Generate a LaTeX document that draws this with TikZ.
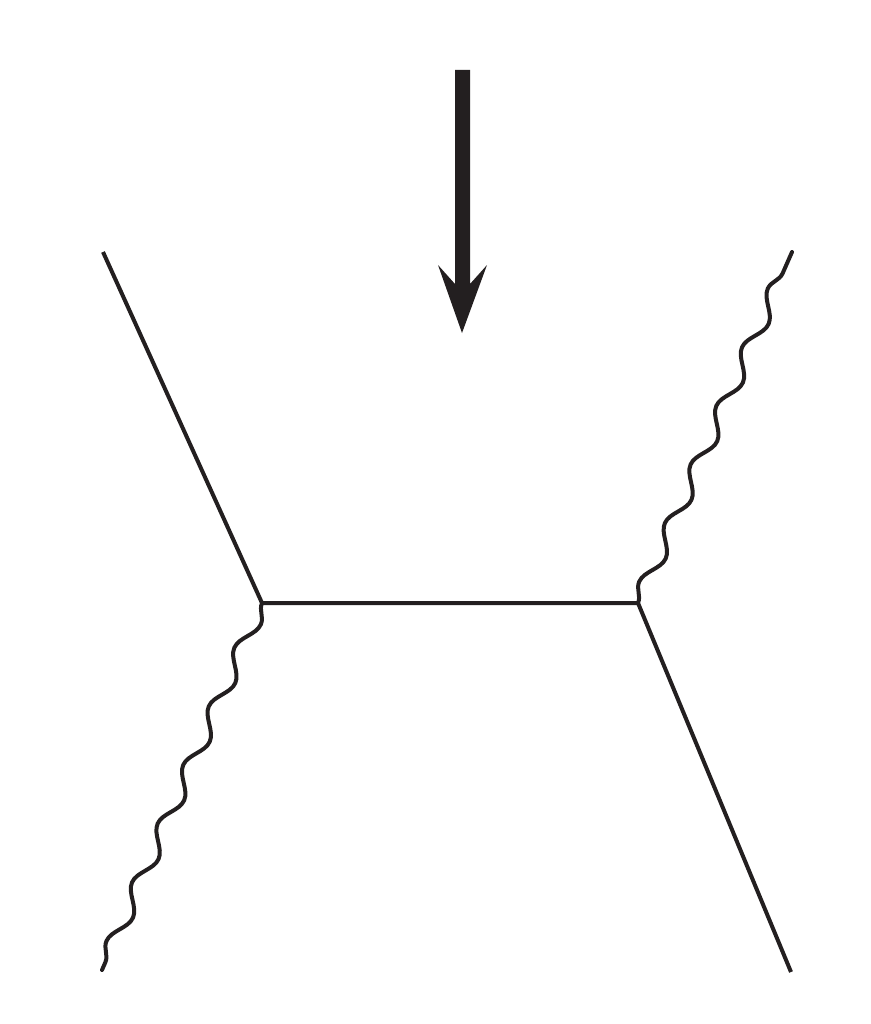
\documentclass[tikz,border=0pt]{standalone}
\usetikzlibrary{decorations.pathmorphing}
\definecolor{ink}{HTML}{231F20}
\begin{document}
\begin{tikzpicture}[x=1pt,y=-1pt,
  fermion/.style={draw=ink,line width=4pt},
  photon/.style={draw=ink,line width=4pt,line cap=round,decorate,decoration={snake,segment length=64,amplitude=7.5,pre length=0,post length=0}}]
\useasboundingbox (0,0) rectangle (870,1024);
\coordinate (vl) at (262,603);
\coordinate (vr) at (638,603);
\coordinate (tl) at (103,252);
\coordinate (br) at (791,972);
\coordinate (tr) at (792,252);
\coordinate (bl) at (102,970);
\draw[fermion] (tl) -- (vl) -- (vr) -- (br);
\draw[photon] (vr) -- (tr);
\draw[photon] (vl) -- (bl);
% arrow
\fill[ink] (455,70) -- (470,70) -- (470,284) -- (487,265) -- (462,333) -- (438,265) -- (455,284) -- cycle;
\end{tikzpicture}
\end{document}
